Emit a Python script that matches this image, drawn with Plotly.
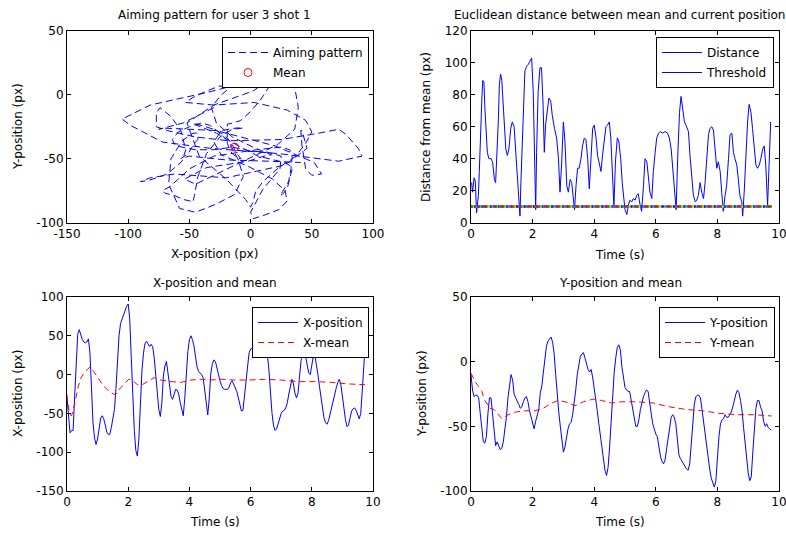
import numpy as np
import plotly.graph_objects as go

# ---------------- data ----------------
t = np.round(np.arange(0, 9.751, 0.05), 2)

x_pos = [
    -30, -55, -75, -72, -72, -28, 20, 52, 58, 50, 45, 42, 41, 42, 46, 28, -20, -62, -82, -90,
    -83, -68, -56, -53, -57, -65, -74, -77, -77, -68, -58, -45, -18, 25, 50, 66, 72, 78, 84, 88,
    91, 72, 23, -32, -72, -98, -105, -82, -35, 6, 28, 40, 43, 39, 36, 39, 36, 22, -2, -24,
    -45, -54, -36, -2, 11, 17, 2, -15, -28, -32, -25, -19, -20, -25, -36, -47, -53, -30, 3, 30,
    45, 50, 45, 37, 23, 10, 4, 2, 0, -4, -20, -42, -52, -30, 2, 14, 19, 17, 8, 0,
    -8, -14, -18, -19, -19, -19, -16, -10, -8, -12, -16, -22, -30, -40, -47, -46, -28, -10, 6, 28,
    33, 34, 32, 30, 27, 24, 26, 31, 33, 34, 32, 25, 5, -30, -50, -66, -72, -70, -62, -55,
    -50, -47, -46, -43, -36, -25, -15, -6, -12, -24, -30, -24, -2, 18, 28, 30, 23, 12, 2, 0,
    10, 24, 25, 14, 0, -15, -30, -45, -56, -62, -64, -59, -50, -40, -33, -25, -17, -10, -6, -13,
    -29, -45, -58, -67, -65, -56, -47, -44, -43, -46, -51, -57, -50, -20, 15, 41,
]

y_pos = [
    -10, -22, -27, -26, -26, -28, -40, -53, -62, -63, -58, -40, -28, -28, -42, -55, -65, -62, -65, -68,
    -67, -62, -52, -43, -28, -17, -10, -14, -25, -28, -30, -33, -36, -35, -31, -28, -27, -31, -38, -42,
    -48, -52, -46, -42, -37, -24, -19, -8, 2, 12, 16, 18, 19, 15, 6, -10, -27, -39, -50, -60,
    -70, -66, -57, -52, -48, -47, -41, -33, -22, -10, -1, 4, 6, 7, 3, -2, -6, -8, -6, -12,
    -20, -29, -38, -48, -57, -68, -76, -84, -88, -82, -66, -48, -22, -8, 3, 11, 13, 9, -4, -13,
    -20, -22, -23, -23, -30, -38, -45, -50, -50, -45, -37, -31, -27, -24, -22, -23, -30, -40, -48, -53,
    -56, -58, -66, -73, -77, -79, -76, -68, -58, -49, -43, -41, -43, -48, -58, -72, -75, -77, -79, -82,
    -83, -84, -79, -64, -46, -33, -27, -26, -26, -28, -37, -47, -56, -66, -75, -83, -90, -94, -97, -92,
    -74, -58, -48, -45, -44, -41, -43, -43, -41, -39, -35, -29, -25, -22, -24, -30, -38, -51, -64, -78,
    -86, -92, -89, -70, -50, -36, -30, -30, -35, -38, -46, -50, -48, -51, -52, -53,
]

t_xmean = [0, 0.08, 0.15, 0.26, 0.37, 0.46, 0.59, 0.76, 0.87, 1.03,
           1.2, 1.42, 1.58, 1.75, 1.91, 2.02, 2.13, 2.3, 2.46, 2.63,
           2.85, 3.07, 3.4, 3.73, 4.05, 4.38, 4.71, 5.04, 5.48, 5.92,
           6.46, 7.0, 7.55, 8.09, 8.64, 9.18, 9.74]
x_mean = [-26, -51, -53, -36, -15, -4, 4, 10, 4, -6,
          -15, -23, -26, -17, -11, -6, -7, -13, -13, -9,
          -4, -7, -9, -10, -7, -6, -7, -6, -7, -7,
          -6, -7, -9, -9, -10, -12, -13]

t_ymean = [0, 0.08, 0.15, 0.24, 0.35, 0.45, 0.62, 0.75, 0.89, 1.0,
           1.21, 1.43, 1.75, 2.08, 2.35, 2.62, 2.84, 3.05, 3.38, 3.65,
           3.97, 4.24, 4.57, 4.89, 5.38, 5.92, 6.46, 7.0, 7.54, 8.08,
           8.63, 9.17, 9.76]
y_mean = [-9, -13, -16, -19, -23, -30, -36, -37, -41, -44,
          -41, -39, -38, -38, -36, -32, -30, -31, -34, -31,
          -29, -30, -32, -31, -31, -32, -35, -37, -38, -40,
          -41, -41, -42]

t_dist = [0.02, 0.05, 0.10, 0.14, 0.18, 0.24, 0.27, 0.31, 0.35, 0.38,
          0.42, 0.45, 0.49, 0.53, 0.58, 0.65, 0.70, 0.76, 0.80, 0.84,
          0.89, 0.92, 0.96, 1.00, 1.04, 1.08, 1.13, 1.18, 1.23, 1.29,
          1.34, 1.40, 1.45, 1.50, 1.56, 1.59, 1.62, 1.67, 1.71, 1.75,
          1.81, 1.86, 1.91, 1.97, 2.02, 2.05, 2.10, 2.13, 2.18, 2.24,
          2.29, 2.34, 2.38, 2.42, 2.48, 2.53, 2.59, 2.64, 2.71, 2.78,
          2.84, 2.89, 2.94, 3.00, 3.05, 3.11, 3.16, 3.22, 3.27, 3.33,
          3.36, 3.41, 3.46, 3.51, 3.57, 3.62, 3.68, 3.73, 3.79, 3.84,
          3.90, 3.95, 4.00, 4.06, 4.11, 4.17, 4.22, 4.27, 4.33, 4.38,
          4.43, 4.49, 4.54, 4.60, 4.64, 4.69, 4.75, 4.80, 4.86, 4.91,
          4.95, 5.00, 5.06, 5.11, 5.16, 5.22, 5.27, 5.33, 5.38, 5.43,
          5.49, 5.54, 5.60, 5.65, 5.71, 5.76, 5.81, 5.87, 5.92, 5.98,
          6.03, 6.09, 6.14, 6.22, 6.30, 6.38, 6.44, 6.50, 6.55, 6.60,
          6.66, 6.71, 6.77, 6.82, 6.87, 6.93, 6.98, 7.06, 7.11, 7.17,
          7.22, 7.28, 7.33, 7.38, 7.44, 7.49, 7.55, 7.60, 7.65, 7.71,
          7.76, 7.82, 7.87, 7.92, 7.98, 8.03, 8.09, 8.14, 8.19, 8.25,
          8.30, 8.36, 8.41, 8.47, 8.52, 8.57, 8.63, 8.68, 8.73, 8.79,
          8.82, 8.87, 8.92, 8.98, 9.03, 9.09, 9.14, 9.20, 9.25, 9.30,
          9.36, 9.41, 9.47, 9.52, 9.57, 9.63, 9.68, 9.73]
dist = [25, 19, 28, 26, 6, 17, 32, 61, 76, 89,
        88, 72, 57, 44, 40, 40, 38, 27, 25, 40,
        65, 86, 93, 89, 76, 61, 46, 42, 46, 59,
        63, 60, 46, 32, 15, 4, 25, 55, 80, 95,
        98, 99, 101, 103, 82, 57, 8, 44, 82, 97,
        97, 74, 44, 61, 72, 78, 76, 67, 59, 53,
        40, 19, 36, 63, 51, 23, 19, 27, 25, 13,
        8, 23, 34, 34, 40, 48, 53, 52, 40, 21,
        44, 59, 61, 53, 42, 36, 32, 42, 53, 60,
        61, 63, 53, 32, 10, 38, 53, 51, 40, 25,
        15, 8, 5, 11, 14, 13, 15, 14, 17, 18,
        11, 7, 23, 40, 38, 29, 19, 15, 32, 44,
        53, 56, 57, 56, 57, 56, 53, 46, 34, 19,
        8, 40, 69, 79, 73, 63, 61, 57, 42, 27,
        17, 13, 14, 17, 25, 19, 15, 25, 40, 55,
        59, 60, 58, 44, 34, 38, 32, 19, 7, 17,
        23, 40, 55, 56, 44, 40, 36, 27, 17, 13,
        4, 19, 44, 63, 74, 69, 59, 46, 36, 34,
        36, 40, 46, 48, 36, 11, 40, 63]

threshold = 10
mean_x = [-13]
mean_y = [-41]

xt_aim = [-150, -100, -50, 0, 50, 100]
yt_aim = [-100, -50, 0, 50]
xt_time = [0, 2, 4, 6, 8, 10]
yt_dist = [0, 20, 40, 60, 80, 100, 120]
yt_xpos = [-150, -100, -50, 0, 50, 100]
yt_ypos = [-100, -50, 0, 50]

# ---------------- styling ----------------
W, H = 786, 535
BLUE = "#0000ff"
RED = "#ff0000"
FONT = "DejaVu Sans"


def px_x(v):
    return v / W


def px_y(v):
    return 1 - v / H


dom_x_left = [px_x(67), px_x(373)]
dom_x_right = [px_x(471), px_x(779)]
dom_y_top = [px_y(222.5), px_y(31)]
dom_y_bot = [px_y(491), px_y(297)]

fig = go.Figure()

# Aiming pattern
fig.add_trace(go.Scatter(x=x_pos, y=y_pos, mode="lines", name="Aiming pattern",
                         line=dict(color=BLUE, width=1, dash="7px,4px"),
                         xaxis="x", yaxis="y", legend="legend", legendgroup="a1"))
fig.add_trace(go.Scatter(x=mean_x, y=mean_y, mode="markers", name="Mean",
                         marker=dict(symbol="circle-open", size=8, color=RED,
                                     line=dict(width=1, color=RED)),
                         xaxis="x", yaxis="y", legend="legend", legendgroup="a2"))

# Distance
fig.add_trace(go.Scatter(x=t_dist, y=dist, mode="lines", name="Distance",
                         line=dict(color=BLUE, width=1),
                         xaxis="x2", yaxis="y2", legend="legend2", legendgroup="b1"))
fig.add_trace(go.Scatter(x=[t_dist[0], t_dist[-1]], y=[threshold, threshold],
                         mode="lines", name="Threshold",
                         line=dict(color=BLUE, width=1),
                         xaxis="x2", yaxis="y2", legend="legend2", legendgroup="b2"))
cycle = ["rgb(255,0,0)", "rgb(0,160,0)", "rgb(230,220,0)", "rgb(0,0,255)",
         "rgb(0,190,190)", "rgb(190,0,190)"]
fig.add_trace(go.Scatter(x=t_dist, y=[threshold] * len(t_dist), mode="markers",
                         marker=dict(symbol="square", size=2.5,
                                     color=[cycle[i % len(cycle)] for i in range(len(t_dist))],
                                     line=dict(width=0)),
                         showlegend=False, hoverinfo="skip",
                         xaxis="x2", yaxis="y2"))

# X-position
fig.add_trace(go.Scatter(x=t, y=x_pos, mode="lines", name="X-position",
                         line=dict(color=BLUE, width=1),
                         xaxis="x3", yaxis="y3", legend="legend3", legendgroup="c1"))
fig.add_trace(go.Scatter(x=t_xmean, y=x_mean, mode="lines", name="X-mean",
                         line=dict(color=RED, width=1, dash="6px,4px"),
                         xaxis="x3", yaxis="y3", legend="legend3", legendgroup="c2"))

# Y-position
fig.add_trace(go.Scatter(x=t, y=y_pos, mode="lines", name="Y-position",
                         line=dict(color=BLUE, width=1),
                         xaxis="x4", yaxis="y4", legend="legend4", legendgroup="d1"))
fig.add_trace(go.Scatter(x=t_ymean, y=y_mean, mode="lines", name="Y-mean",
                         line=dict(color=RED, width=1, dash="6px,4px"),
                         xaxis="x4", yaxis="y4", legend="legend4", legendgroup="d2"))


def axis(domain, rng, ticks, anchor):
    return dict(domain=domain, range=rng, tickvals=ticks,
                ticktext=[str(v) for v in ticks], anchor=anchor,
                automargin=False, ticklabeloverflow="allow",
                ticks="inside", ticklen=4, tickcolor="black", tickwidth=1,
                showline=True, linecolor="black", linewidth=1, mirror="ticks",
                showgrid=False, zeroline=False, fixedrange=True,
                tickfont=dict(family=FONT, size=12, color="black"))


def legend(right, top):
    return dict(x=px_x(right), y=px_y(top), xanchor="right", yanchor="top",
                bgcolor="white", bordercolor="black", borderwidth=1,
                font=dict(family=FONT, size=12, color="black"),
                itemwidth=40, tracegroupgap=1, traceorder="grouped")


annotations = []


def text(s, x, y, angle=0):
    annotations.append(dict(text=s, x=px_x(x), y=px_y(y), xref="paper", yref="paper",
                            xanchor="center", yanchor="middle", showarrow=False,
                            textangle=angle,
                            font=dict(family=FONT, size=12, color="black")))


text("Aiming pattern for user 3 shot 1", 215, 15)
text("X-position (px)", 215, 254)
text("Y-position (px)", 18, 127, -90)
text("Euclidean distance between mean and current position", 619, 15)
text("Time (s)", 620, 255)
text("Distance from mean (px)", 426, 127, -90)
text("X-position and mean", 215, 283)
text("Time (s)", 215, 522)
text("X-position (px)", 18, 394, -90)
text("Y-position and mean", 620, 283)
text("Time (s)", 620, 522)
text("Y-position (px)", 422, 394, -90)

fig.update_layout(
    template="none",
    width=W, height=H, margin=dict(l=0, r=0, t=0, b=0, pad=0),
    autosize=False,
    paper_bgcolor="white", plot_bgcolor="white",
    font=dict(family=FONT, size=12, color="black"),
    xaxis=axis(dom_x_left, [-150, 100], xt_aim, "y"),
    yaxis=axis(dom_y_top, [-100, 50], yt_aim, "x"),
    xaxis2=axis(dom_x_right, [0, 10], xt_time, "y2"),
    yaxis2=axis(dom_y_top, [0, 120], yt_dist, "x2"),
    xaxis3=axis(dom_x_left, [0, 10], xt_time, "y3"),
    yaxis3=axis(dom_y_bot, [-150, 100], yt_xpos, "x3"),
    xaxis4=axis(dom_x_right, [0, 10], xt_time, "y4"),
    yaxis4=axis(dom_y_bot, [-100, 50], yt_ypos, "x4"),
    legend=legend(369, 37),
    legend2=legend(774, 37),
    legend3=legend(369, 307),
    legend4=legend(775, 307),
    annotations=annotations,
    showlegend=True,
)

fig.write_html("out.html",
               config={"displayModeBar": False},
               post_script="document.body.style.margin='0';document.body.style.overflow='hidden';")
